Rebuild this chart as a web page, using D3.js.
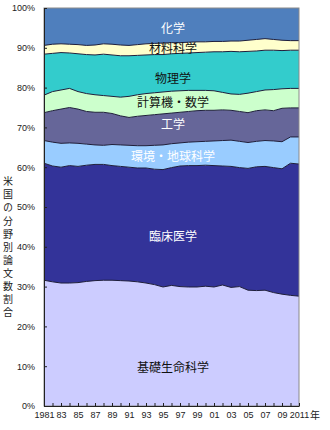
<!DOCTYPE html>
<html lang="ja">
<head>
<meta charset="utf-8">
<script src="https://cdn.jsdelivr.net/npm/d3@7"></script>
<style>
  html, body { margin: 0; padding: 0; background: #fff; }
  svg { display: block; }
  .axis text { font-family: "Liberation Sans", Arial, sans-serif; font-size: 9px; fill: #222; }
  .axis path, .axis line { stroke: #222; }
  .jp { font-family: "Noto Sans CJK JP", sans-serif; }
  .vtitle { writing-mode: vertical-rl; text-orientation: upright; letter-spacing: 3.1px; }
</style>
</head>
<body>
<svg id="chart" width="330" height="430"></svg>
<script>
// Years covered (1981–2011)
const years = d3.range(1981, 2012);

// Field names, bottom of the stack first
const fields = ["基礎生命科学", "臨床医学", "環境・地球科学", "工学", "計算機・数学", "物理学", "材料科学", "化学"];

// Share of US papers by field (%), one value per year
const basicLife   = [31.6, 31.2, 30.9, 30.9, 31.0, 31.3, 31.5, 31.6, 31.6, 31.5, 31.4, 31.2, 30.9, 30.5, 29.9, 30.3, 30.0, 29.9, 29.9, 30.1, 29.9, 30.4, 29.8, 30.0, 29.1, 29.0, 29.1, 28.5, 28.1, 27.8, 27.6];
const clinical    = [29.4, 29.1, 29.1, 29.5, 29.2, 29.2, 29.2, 29.1, 28.8, 28.7, 28.6, 28.6, 28.9, 29.0, 29.5, 29.6, 30.3, 30.5, 30.5, 30.4, 30.5, 29.9, 30.4, 29.9, 30.6, 31.1, 31.1, 31.4, 31.5, 33.2, 33.2];
const environment = [5.7, 6.0, 6.0, 5.7, 5.8, 5.3, 4.9, 4.8, 5.3, 5.4, 5.5, 5.6, 5.6, 6.0, 6.2, 6.0, 5.8, 5.9, 6.0, 6.0, 6.2, 6.4, 6.6, 6.6, 6.5, 6.4, 6.5, 6.7, 6.8, 6.6, 6.8];
const engineering = [7.0, 7.9, 8.6, 8.9, 8.6, 8.2, 8.2, 8.3, 7.8, 7.3, 7.0, 7.4, 7.6, 7.7, 7.8, 7.7, 7.7, 7.7, 7.8, 7.8, 7.7, 7.7, 7.5, 7.5, 7.5, 7.7, 7.7, 7.6, 8.4, 7.3, 7.3];
const computing   = [4.4, 4.8, 4.8, 4.8, 4.4, 4.5, 4.4, 4.2, 4.3, 4.7, 5.3, 5.4, 5.5, 5.5, 5.5, 5.5, 5.4, 5.3, 5.1, 5.0, 4.9, 4.4, 4.1, 4.3, 4.9, 4.8, 5.0, 5.3, 4.9, 4.9, 4.9];
const physics     = [10.3, 9.6, 9.4, 8.9, 9.5, 9.8, 10.0, 10.4, 10.4, 10.4, 10.2, 9.9, 9.7, 9.6, 9.4, 9.4, 9.4, 9.4, 9.5, 9.6, 9.8, 10.2, 10.7, 10.7, 10.5, 10.2, 10.0, 9.9, 9.6, 9.6, 9.6];
const materials   = [2.2, 2.3, 2.2, 2.2, 2.3, 2.3, 2.5, 2.6, 2.7, 2.7, 2.6, 2.7, 2.8, 2.8, 2.9, 2.8, 2.7, 2.7, 2.7, 2.6, 2.6, 2.6, 2.6, 2.7, 2.8, 2.9, 2.9, 2.7, 2.6, 2.4, 2.4];
const chemistry   = [9.4, 9.1, 9.0, 9.1, 9.2, 9.4, 9.3, 9.0, 9.1, 9.3, 9.4, 9.2, 9.0, 8.9, 8.8, 8.7, 8.7, 8.6, 8.5, 8.5, 8.4, 8.4, 8.3, 8.3, 8.1, 7.9, 7.7, 7.9, 8.1, 8.2, 8.2];

// Y-axis tick values (%)
const yTicks = [0, 10, 20, 30, 40, 50, 60, 70, 80, 90, 100];

// Axis title
const yTitle = "米国の分野別論文数割合";

const series = [basicLife, clinical, environment, engineering, computing, physics, materials, chemistry];

// Fill colour and label style per layer (same order as fields)
const fills = ["#ccccff", "#333399", "#99ccff", "#666699", "#ccffcc", "#33cccc", "#ffffcc", "#4f7fbd"];
const labelColors = ["#111", "#fff", "#fff", "#fff", "#111", "#111", "#111", "#fff"];
// Vertical anchor of each in-chart label, in axis units (%)
const labelAt = [9.7, 42.5, 62.6, 70.6, 76.2, 82.3, 89.7, 94.9];

// Row-per-year table for d3.stack
const table = years.map((yr, i) => {
  const row = { year: yr };
  fields.forEach((f, k) => { row[f] = series[k][i]; });
  return row;
});

const svg = d3.select("#chart");
const plotLeft = 44, plotRight = 299, plotTop = 8, plotBottom = 406;

const x = d3.scaleLinear().domain([1981, 2011]).range([plotLeft, plotRight]);
const y = d3.scaleLinear().domain([0, 100]).range([plotBottom, plotTop]);

const stacked = d3.stack().keys(fields)(table);

const area = d3.area()
  .x(d => x(d.data.year))
  .y0(d => y(d[0]))
  .y1(d => y(d[1]));

// Filled layers
svg.append("g").selectAll("path")
  .data(stacked)
  .join("path")
  .attr("d", area)
  .attr("fill", (d, i) => fills[i]);

// Dark boundary lines between layers
const edge = d3.line()
  .x(d => x(d.data.year))
  .y(d => y(d[1]));
svg.append("g").selectAll("path")
  .data(stacked.slice(0, -1))
  .join("path")
  .attr("d", edge)
  .attr("fill", "none")
  .attr("stroke", "#1e1e3a")
  .attr("stroke-width", 1);

// Plot frame
svg.append("rect")
  .attr("x", plotLeft).attr("y", plotTop)
  .attr("width", plotRight - plotLeft).attr("height", plotBottom - plotTop)
  .attr("fill", "none")
  .attr("stroke", "#8a8a8a")
  .attr("stroke-width", 1);

// Y axis
svg.append("g")
  .attr("class", "axis")
  .attr("transform", `translate(${plotLeft},0)`)
  .call(d3.axisLeft(y).tickValues(yTicks).tickFormat(d => d + "%")
    .tickSizeInner(-3).tickSizeOuter(0).tickPadding(9));

// X axis: a tick every year, labels on odd years
svg.append("g")
  .attr("class", "axis")
  .attr("transform", `translate(0,${plotBottom})`)
  .call(d3.axisBottom(x).tickValues(years)
    .tickFormat(d => {
      if ((d - 1981) % 2 !== 0) return "";
      if (d === 1981 || d === 2011) return String(d);
      return String(d).slice(2);
    })
    .tickSizeInner(-3).tickSizeOuter(0).tickPadding(6));

svg.selectAll(".axis .domain").attr("stroke", "#222");

// Unit after the last year
svg.append("text")
  .attr("class", "jp")
  .attr("x", x(2011) + 11)
  .attr("y", plotBottom + 13)
  .attr("font-size", 10)
  .attr("fill", "#222")
  .text("年");

// Vertical axis title written top to bottom
svg.append("text")
  .attr("class", "jp vtitle")
  .attr("x", 8)
  .attr("y", 176.5)
  .attr("font-size", 10)
  .attr("fill", "#222")
  .text(yTitle);

// Layer labels
const cx = (plotLeft + plotRight) / 2 + 1.5;
svg.append("g").selectAll("text")
  .data(fields)
  .join("text")
  .attr("class", "jp")
  .attr("x", cx)
  .attr("y", (d, i) => y(labelAt[i]))
  .attr("dy", "0.36em")
  .attr("text-anchor", "middle")
  .attr("font-size", 12)
  .attr("fill", (d, i) => labelColors[i])
  .text(d => d);
</script>
</body>
</html>
